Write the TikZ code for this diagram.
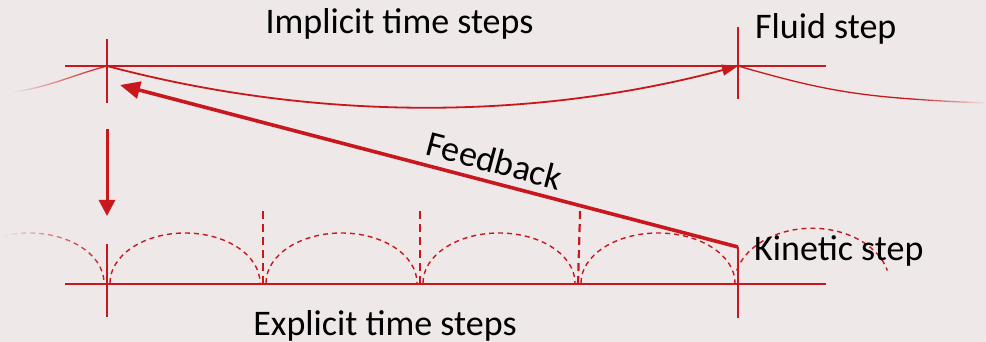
\documentclass[tikz,border=0pt]{standalone}
\usepackage{fontspec}
\setmainfont{Carlito}
\usetikzlibrary{arrows.meta,calc,fadings}
\definecolor{stepred}{RGB}{200,24,30}
\definecolor{paper}{RGB}{238,232,232}
\tikzset{
    % axis lines, ticks and the dashed sub-steps
    axis line/.style={draw=stepred,line width=2.6pt},
    tick line/.style={draw=stepred,line width=2.4pt},
    sub tick/.style={draw=stepred,line width=2.2pt,dash pattern=on 8pt off 5pt},
    hop arc/.style={draw=stepred,line width=1.4pt,dash pattern=on 5pt off 4pt},
    sag curve/.style={draw=stepred,line width=1.3pt},
    step label/.style={font=\fontsize{36}{42}\selectfont,text=black,inner sep=0pt}
    }

\begin{document}
\begin{tikzpicture}[x=1pt,y=1pt] % one unit = one pixel of the original
        \useasboundingbox[fill=paper] (0,0) rectangle (986,342);
        % Fluid (implicit) axis
        \coordinate (fl) at (65,276); \coordinate (fr) at (826,276);
        \coordinate (f0) at (107,276); \coordinate (f1) at (738,276);
        \coordinate (lt) at (13,250); \coordinate (rm) at (912,243); \coordinate (rt) at (986,239);
        \draw[axis line] (fl) -- (fr);
        \draw[tick line] (f0) ++(0,27) -- ++(0,-64);
        \draw[tick line] (f1) ++(0,39) -- ++(0,-72);
        \draw[sag curve,line width=1.8pt,-{Triangle[length=16pt,width=11pt]}] (f0) .. controls (314,221) and (531,221) .. (f1);
        \draw[sag curve,path fading=west] (lt) to[out=8,in=-165] (f0);
        \draw[sag curve] (f1) to[out=-16,in=176] (rm);
        \draw[sag curve,path fading=east] (rm) to[out=-4,in=178] (rt);
        % Kinetic (explicit) axis
        \coordinate (kl) at (65,58); \coordinate (kr) at (826,58);
        \coordinate (k0) at (107,58); \coordinate (k1) at (738,58);
        \coordinate (s1) at (263,58); \coordinate (s2) at (420,58); \coordinate (s3) at (578,58);
        \coordinate (kt) at (738,95);
        \draw[axis line] (kl) -- (kr);
        \draw[tick line] (k0) ++(0,40) -- ++(0,-73);
        \draw[tick line] (kt) -- ++(0,-71);
        % feedback from kinetic to fluid step
        \coordinate (fb) at (120,257);
        \draw[stepred,line width=3.6pt,-{Triangle[length=20pt,width=17pt]}] (kt) -- (fb);
        \coordinate (s3t) at ($(kt)!0.2553!(fb)$);
        \draw[sub tick] (s1) -- ++(0,75);
        \draw[sub tick] (s2) -- ++(0,75);
        \draw[sub tick] (s3) -- (s3t);
        % hops between sub-steps
        \foreach \a/\b in {107/263,263/420,420/578,578/738}
            \draw[hop arc] (\a+3,59) arc[start angle=180,end angle=0,x radius={(\b-\a-6)/2},y radius=50];
        \draw[hop arc,path fading=west] (3.35,106) arc[start angle=110,end angle=0,x radius=75,y radius=50];
        \draw[hop arc] (736.7,71.5) arc[start angle=165,end angle=15,x radius=78,y radius=57];
        % coupling down to the kinetic axis
        \coordinate (d0) at (107,213); \coordinate (d1) at (107,126);
        \draw[stepred,line width=3pt,-{Triangle[length=16pt,width=16pt]}] (d0) -- (d1);
        % labels
        \node(implicit)[step label,anchor=base] at (399.5,308) {Implicit time steps};
        \node(fluid)[step label,anchor=base west] at (755,303) {Fluid step};
        \node(kinetic)[step label,anchor=base west] at (754,81) {Kinetic step};
        \node(explicit)[step label,anchor=base] at (385,6) {Explicit time steps};
        \node(feedback)[step label,rotate=-14.8,anchor=south] at ($(kt)!0.403!(fb)+(2.3,8.7)$) {Feedback};
\end{tikzpicture}
\end{document}
